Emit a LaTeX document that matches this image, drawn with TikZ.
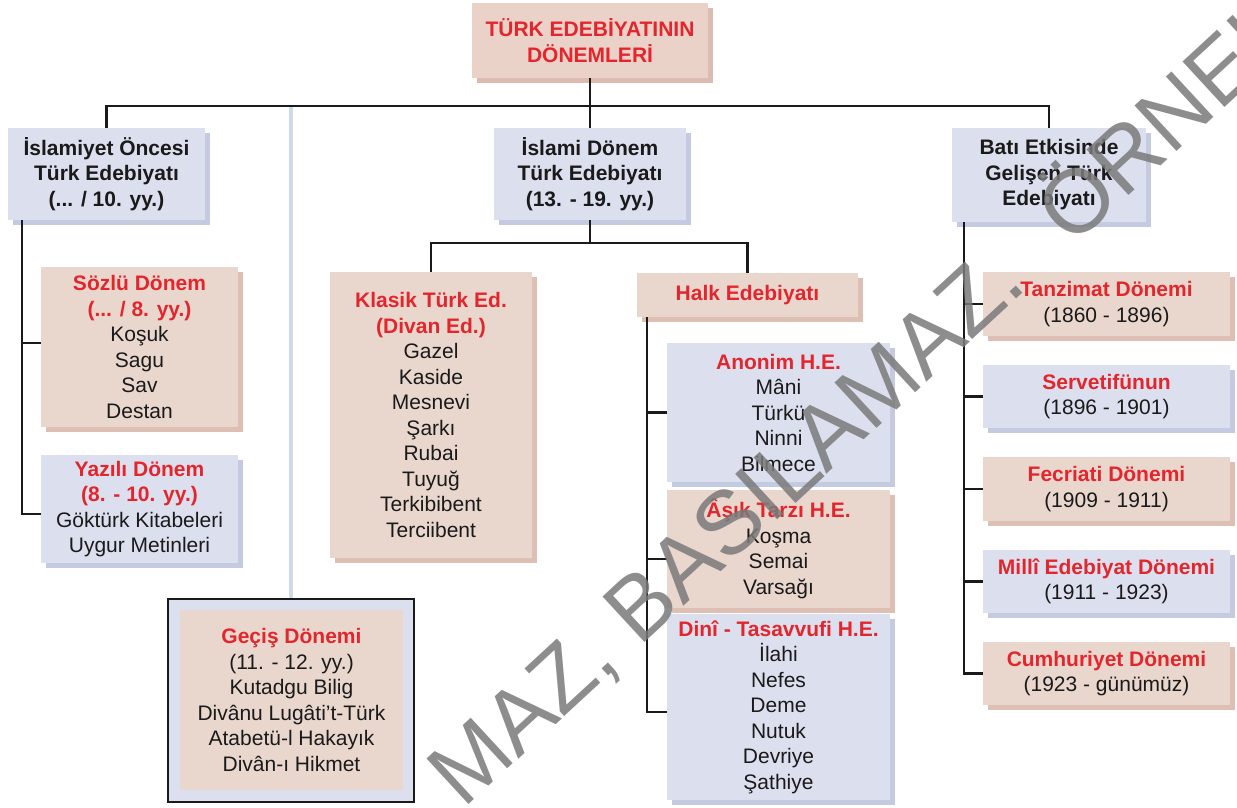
\documentclass[tikz,border=0pt]{standalone}
\usepackage{fontspec}
\setmainfont{Liberation Sans}
\usetikzlibrary{calc}
\definecolor{bgF}{HTML}{E9D7CE}
\definecolor{bgS}{HTML}{DEBFB4}
\definecolor{ttF}{HTML}{EBD2C9}
\definecolor{ttS}{HTML}{DDBBB0}
\definecolor{blF}{HTML}{DCE0EE}
\definecolor{blS}{HTML}{C4CBE0}
\definecolor{tred}{HTML}{E3262D}
\definecolor{txt}{HTML}{1A1A1A}
\definecolor{lline}{HTML}{D2D9E8}
\definecolor{wm}{HTML}{7A7A7A}
\newcommand\tf{\fontsize{21}{25.5}\selectfont}
\newcommand\rt[1]{\textcolor{tred}{\bfseries #1}}
\begin{document}
\begin{tikzpicture}[x=1pt,y=-1pt,
  base/.style={inner sep=0pt, align=center, font=\tf, text=txt},
  bbox/.style={base, fill=bgF, preaction={fill=bgS, transform canvas={shift={(5pt,-5pt)}}}},
  ubox/.style={base, fill=blF, preaction={fill=blS, transform canvas={shift={(5pt,-5pt)}}}},
  tbox/.style={base, fill=ttF, preaction={fill=ttS, transform canvas={shift={(5pt,-5pt)}}}},
  conn/.style={line width=2.2pt, draw=txt},
  lb/.style={line width=4pt, draw=lline},
  wmk/.style={rotate=42.7, inner sep=0pt, font=\fontsize{90}{90}\selectfont, text=wm, text opacity=0.85}
]
\useasboundingbox (0,0) rectangle (1237,807);
\fill[white] (0,0) rectangle (1237,807);

% ---- boxes ----
\node[tbox, minimum width=236pt, minimum height=75pt] (title) at (590,40.5)
  {\rt{TÜRK EDEBİYATININ}\\\rt{DÖNEMLERİ}};

\node[ubox, minimum width=197pt, minimum height=92pt] (islamiyet) at (106.5,174)
  {\bfseries İslamiyet Öncesi\\\bfseries Türk Edebiyatı\\\bfseries (... / 10. yy.)};
\node[ubox, minimum width=192pt, minimum height=92pt] (islami) at (590,174)
  {\bfseries İslami Dönem\\\bfseries Türk Edebiyatı\\\bfseries (13. - 19. yy.)};
\node[ubox, minimum width=194pt, minimum height=94pt] (bati) at (1049,175)
  {\bfseries Batı Etkisinde\\\bfseries Gelişen Türk\\\bfseries Edebiyatı};

\node[bbox, minimum width=197pt, minimum height=160pt] (sozlu) at (139.5,347)
  {\rt{Sözlü Dönem}\\\rt{(... / 8. yy.)}\\Koşuk\\Sagu\\Sav\\Destan};
\node[ubox, minimum width=197pt, minimum height=108pt] (yazili) at (139.5,509)
  {\rt{Yazılı Dönem}\\\rt{(8. - 10. yy.)}\\Göktürk Kitabeleri\\Uygur Metinleri};

\node[bbox, minimum width=202pt, minimum height=286pt] (klasik) at (431,415)
  {\rt{Klasik Türk Ed.}\\\rt{(Divan Ed.)}\\Gazel\\Kaside\\Mesnevi\\Şarkı\\Rubai\\Tuyuğ\\Terkibibent\\Terciibent};
\node[bbox, minimum width=221pt, minimum height=44pt] (halk) at (747.5,295)
  {\rt{Halk Edebiyatı}};

\node[ubox, minimum width=223pt, minimum height=139pt] (anonim) at (778.5,412.5)
  {\rt{Anonim H.E.}\\Mâni\\Türkü\\Ninni\\Bilmece};
\node[bbox, minimum width=223pt, minimum height=118pt] (asik) at (778.5,549)
  {\rt{Âşık Tarzı H.E.}\\Koşma\\Semai\\Varsağı};
\node[ubox, minimum width=223pt, minimum height=186pt] (dini) at (778.5,707)
  {\rt{Dinî - Tasavvufi H.E.}\\İlahi\\Nefes\\Deme\\Nutuk\\Devriye\\Şathiye};

\node[bbox, minimum width=247pt, minimum height=64pt] (tanzimat) at (1106.5,304)
  {\rt{Tanzimat Dönemi}\\(1860 - 1896)};
\node[ubox, minimum width=247pt, minimum height=63pt] (servet) at (1106.5,396.5)
  {\rt{Servetifünun}\\(1896 - 1901)};
\node[bbox, minimum width=247pt, minimum height=64pt] (fecriati) at (1106.5,489)
  {\rt{Fecriati Dönemi}\\(1909 - 1911)};
\node[ubox, minimum width=247pt, minimum height=63pt] (milli) at (1106.5,581.5)
  {\rt{Millî Edebiyat Dönemi}\\(1911 - 1923)};
\node[bbox, minimum width=247pt, minimum height=63pt] (cumhuriyet) at (1106.5,673.5)
  {\rt{Cumhuriyet Dönemi}\\(1923 - günümüz)};

\node[base, draw=txt, line width=1.8pt, fill=blF, minimum width=246pt, minimum height=203pt] (gecis) at (291,700.5) {};
\node[base, fill=bgF, minimum width=223pt, minimum height=180pt] (gecisin) at (291.5,700)
  {\rt{Geçiş Dönemi}\\(11. - 12. yy.)\\Kutadgu Bilig\\Divânu Lugâti’t-Türk\\Atabetü-l Hakayık\\Divân-ı Hikmet};

% ---- connectors ----
\coordinate (top) at (590,106);
\coordinate (mid) at (590,243);
\coordinate (lvx) at (22,220);
\coordinate (hvx) at (647,317);
\coordinate (rvx) at (964,222);

\draw[lb] (gecis.north |- top) -- (gecis.north);
\draw[conn] (title.south) -- (islami.north);
\draw[conn] (islamiyet.north) |- (top) -| (bati.north);
\draw[conn] (lvx) |- ([yshift=4pt]sozlu.west);
\draw[conn] (lvx) |- ([yshift=-5pt]yazili.west);
\draw[conn] (islami.south) -- (mid);
\draw[conn] (klasik.north) |- (mid) -| (halk.north);
\draw[conn] (hvx) |- (anonim.west);
\draw[conn] (hvx) |- ([yshift=-10pt]asik.west);
\draw[conn] (hvx) |- ([yshift=-5pt]dini.west);
\draw[conn] (rvx) |- (tanzimat.west);
\draw[conn] (rvx) |- (servet.west);
\draw[conn] (rvx) |- (fecriati.west);
\draw[conn] (rvx) |- (milli.west);
\draw[conn] (rvx) |- (cumhuriyet.west);

% ---- watermark ----
\begin{scope}
\clip (0,0) rectangle (1237,807);
\node[wmk, anchor=base west] (wm1) at (463,810) {MAZ, BASILAMAZ.};
\node[wmk, anchor=base west] (wm2) at (1072,248) {ÖRNEKTİR};
\end{scope}
\end{tikzpicture}
\end{document}
